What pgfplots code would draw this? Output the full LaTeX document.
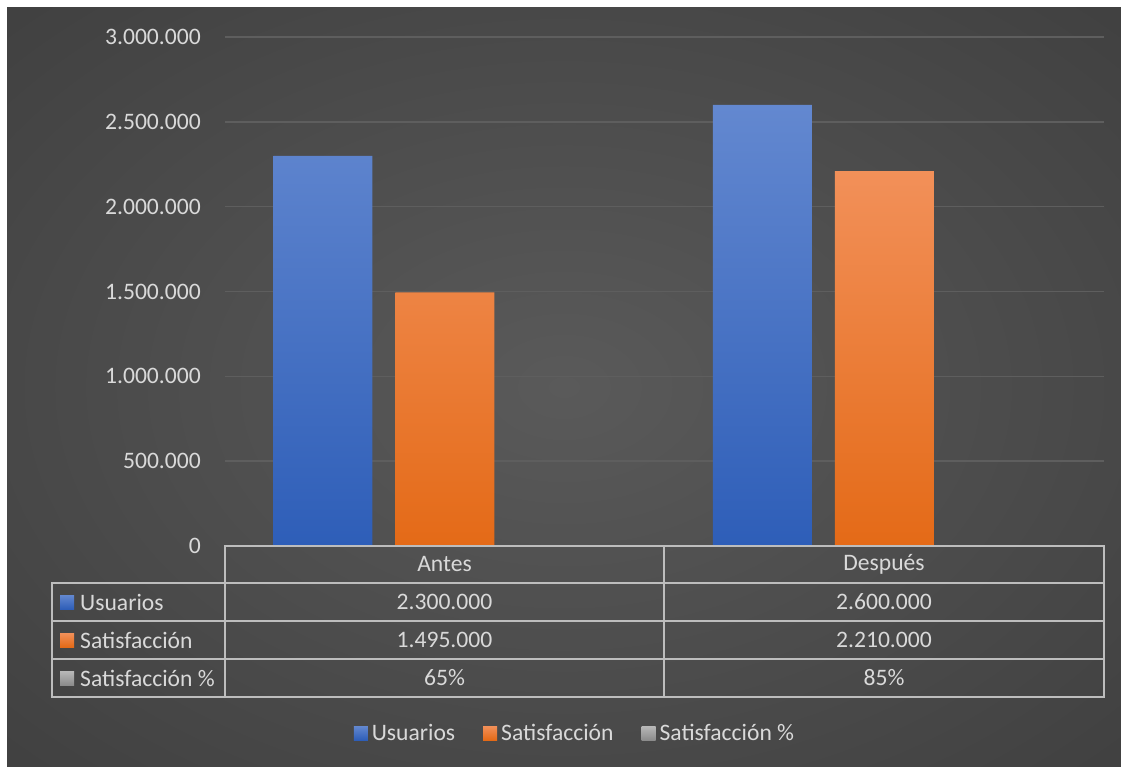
\documentclass[border=0pt]{standalone}
\usepackage{pgfplots}
\pgfplotsset{compat=1.18}
\usepackage{fontspec}
\setmainfont{Carlito}
\definecolor{txt}{HTML}{D9D9D9}
\definecolor{gridc}{HTML}{5E5E5E}
\definecolor{tline}{HTML}{BDBDBD}
\definecolor{bgin}{HTML}{5A5A5A}
\definecolor{bgout}{HTML}{262626}
\definecolor{bluetop}{HTML}{6388D0}
\definecolor{bluebot}{HTML}{2E5EB8}
\definecolor{ortop}{HTML}{F29059}
\definecolor{orbot}{HTML}{E46A17}
\definecolor{grtop}{HTML}{B8B8B8}
\definecolor{grbot}{HTML}{8C8C8C}
\pgfdeclareradialshading{bgshade}{\pgfpoint{0bp}{0bp}}{color(0bp)=(bgin); color(72bp)=(bgout); color(100bp)=(bgout)}
\newcommand{\chartfont}{\fontsize{23.6bp}{28bp}\selectfont}
\begin{document}
\begin{tikzpicture}
\useasboundingbox (0bp,0bp) rectangle (1121bp,-767bp);
\fill[white] (0bp,0bp) rectangle (1121bp,-767bp);
\shade[shading=bgshade] (7bp,-7bp) rectangle (1121bp,-767bp);
\begin{axis}[
  at={(225bp,-546bp)}, anchor=south west,
  scale only axis, width=879bp, height=509bp,
  xmin=-0.5, xmax=1.5, ymin=0, ymax=3000000,
  ytick={0,500000,1000000,1500000,2000000,2500000,3000000},
  xtick=\empty,
  scaled y ticks=false,
  ymajorgrids, grid style={gridc, line width=1.5bp},
  axis line style={draw=none},
  major tick length=0pt,
  ybar=23bp, bar width=99bp,
  yticklabel style={text=txt, font=\chartfont, inner sep=0pt, xshift=-24bp,
    /pgf/number format/.cd, fixed, 1000 sep={.}, assume math mode=true},
  legend columns=3,
  legend style={at={(0.3976,-0.3674)}, anchor=center, draw=none, fill=none,
    text=txt, font=\chartfont, nodes={inner sep=1bp},
    /tikz/every even column/.append style={column sep=27bp}},
  legend image code/.code={\path[#1, draw=none] (0bp,-7bp) rectangle (14bp,7bp);},
]
\addplot[draw=none, top color=bluetop, bottom color=bluebot] coordinates {(0,2300000) (1,2600000)};
\addplot[draw=none, top color=ortop, bottom color=orbot] coordinates {(0,1495000) (1,2210000)};
\addplot[draw=none, top color=grtop, bottom color=grbot] coordinates {(0,0.65) (1,0.85)};
\legend{\hspace{3bp}Usuarios, \hspace{3bp}Satisfacción, \hspace{3bp}Satisfacción \%}
\end{axis}
% data table
\begin{scope}[tline, line width=2bp]
\draw (225bp,-546bp) rectangle (1104bp,-697bp);
\draw (52bp,-583bp) rectangle (225bp,-697bp);
\draw (52bp,-583bp) -- (1104bp,-583bp);
\draw (52bp,-621bp) -- (1104bp,-621bp);
\draw (52bp,-659bp) -- (1104bp,-659bp);
\draw (664bp,-546bp) -- (664bp,-697bp);
\end{scope}
\begin{scope}[every node/.style={text=txt, font=\chartfont, inner sep=0pt}]
\node at (444.5bp,-564.5bp) {Antes};
\node at (884bp,-564.5bp) {Después};
\node at (444.5bp,-602bp) {2.300.000};
\node at (884bp,-602bp) {2.600.000};
\node at (444.5bp,-640bp) {1.495.000};
\node at (884bp,-640bp) {2.210.000};
\node at (444.5bp,-678bp) {65\%};
\node at (884bp,-678bp) {85\%};
\node[anchor=west] at (80bp,-602bp) {Usuarios};
\node[anchor=west] at (80bp,-640bp) {Satisfacción};
\node[anchor=west] at (80bp,-678bp) {Satisfacción \%};
\end{scope}
\shade[top color=bluetop, bottom color=bluebot] (60bp,-595bp) rectangle (74bp,-609bp);
\shade[top color=ortop, bottom color=orbot] (60bp,-633bp) rectangle (74bp,-647bp);
\shade[top color=grtop, bottom color=grbot] (60bp,-671bp) rectangle (74bp,-685bp);
\end{tikzpicture}
\end{document}
